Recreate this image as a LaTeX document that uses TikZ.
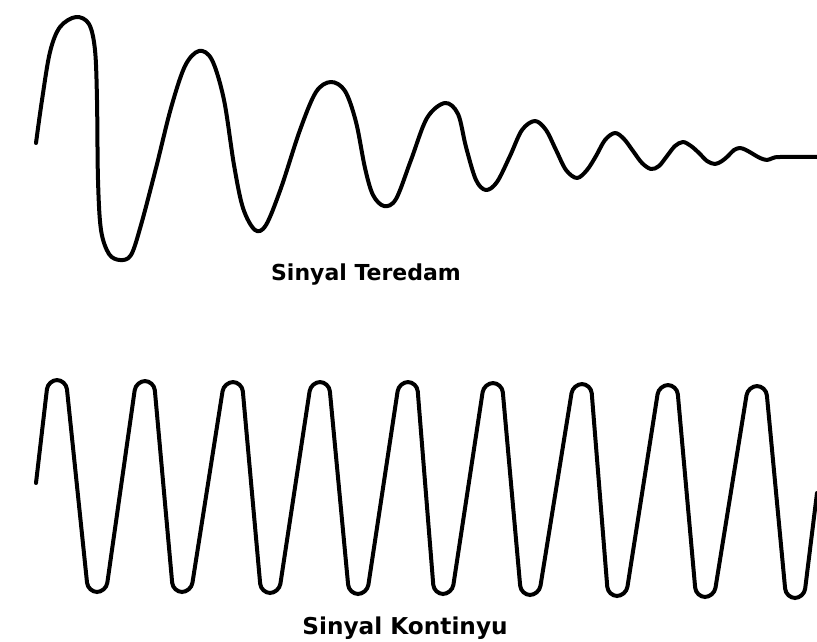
\documentclass[tikz,border=0pt]{standalone}
\usepackage{fontspec}
\newfontfamily\lblfont{DejaVu Sans}
\begin{document}
\begin{tikzpicture}[x=0.75pt,y=-0.75pt,
  wave/.style={line width=3pt,black,line cap=round,line join=round},
  lbl/.style={inner sep=0pt}]
\useasboundingbox (0,0) rectangle (817,642);
% damped signal
\draw[wave] plot[smooth,tension=0.55] coordinates {
 (36,143) (42,100) (50,52) (60,27) (76,17) (89,24) (95,50) (97,100) (98,180) (101,230) (109,254) (120,260)
 (131,255) (141,225) (156,168) (171,108) (185,66) (199,51) (212,60) (224,100) (234,165) (243,208) (255,230)
 (266,225) (281,188) (300,130) (316,92) (331,82) (345,91) (356,122) (365,168) (373,195) (384,206)
 (396,199) (411,160) (427,118) (445,103) (458,114) (466,147) (476,180) (486,190)
 (497,182) (510,156) (522,130) (535,121) (546,130) (556,150) (566,170) (577,178)
 (587,170) (596,156) (605,140) (615,133) (624,139) (633,151) (642,163) (651,169)
 (659,166) (667,156) (675,146) (683,142) (691,146) (699,153) (707,161) (715,164)
 (722,161) (728,156) (734,150) (740,148) (746,150) (753,154) (760,158) (767,160)
 (773,158) (780,157) (817,157)};
% continuous signal
\draw[wave,rounded corners=7pt] (36,483) -- (48,380)
 -- (66,380) -- (88,592) -- (106,592)
 -- (136,381) -- (154,381) -- (173,592) -- (191,592)
 -- (224,382) -- (242,382) -- (261,593) -- (279,593)
 -- (311,382) -- (329,382) -- (349,594) -- (367,594)
 -- (399,382) -- (417,382) -- (434,594) -- (452,594)
 -- (484,383) -- (502,383) -- (521,595) -- (539,595)
 -- (573,384) -- (591,384) -- (608,596) -- (626,596)
 -- (659,385) -- (677,385) -- (696,597) -- (714,597)
 -- (748,386) -- (766,386) -- (786,598) -- (804,598)
 -- (817,493);
\node[lbl,font=\lblfont\bfseries\fontsize{16.5}{18}\selectfont] (t1) at (366,275) {Sinyal Teredam};
\node[lbl,font=\lblfont\bfseries\fontsize{17.4}{19}\selectfont] (t2) at (405,628) {Sinyal Kontinyu};
\end{tikzpicture}
\end{document}
